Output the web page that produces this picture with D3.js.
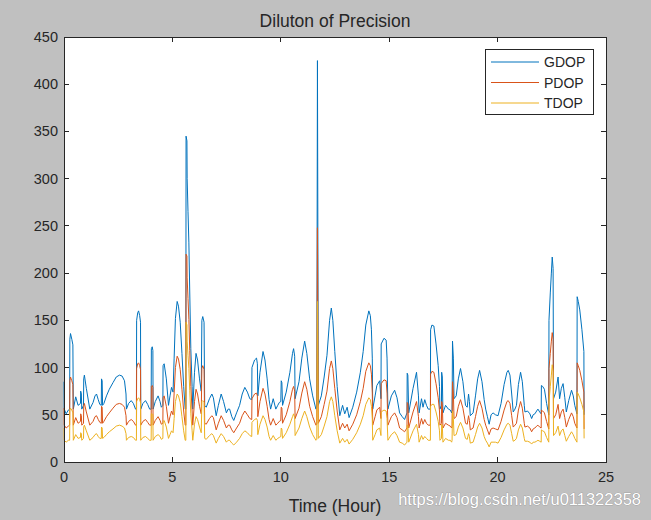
<!DOCTYPE html>
<html>
<head>
<meta charset="utf-8">
<script src="https://cdn.jsdelivr.net/npm/d3@7"></script>
<style>
  body { margin: 0; background: #c0c0c0; }
  svg { display: block; font-family: "Liberation Sans", Arial, sans-serif; }
</style>
</head>
<body>
<svg width="651" height="520"></svg>
<script>
// hours since start of day
const hours = [
  0.00, 0.01, 0.10, 0.20, 0.26, 0.27, 0.30, 0.36, 0.41, 0.43, 0.54, 0.65, 0.76, 0.77, 0.80, 0.82, 0.90, 0.91, 0.94, 1.03,
  1.19, 1.34, 1.43, 1.50, 1.58, 1.65, 1.72, 1.73, 1.76, 1.78, 1.84, 1.96, 2.09, 2.26, 2.41, 2.56, 2.68, 2.79, 2.86, 2.88,
  2.98, 3.10, 3.20, 3.30, 3.34, 3.35, 3.40, 3.44, 3.49, 3.53, 3.54, 3.64, 3.76, 3.86, 3.95, 4.02, 4.03, 4.07, 4.10, 4.11,
  4.21, 4.34, 4.43, 4.49, 4.56, 4.57, 4.62, 4.72, 4.82, 4.89, 4.96, 5.03, 5.08, 5.14, 5.22, 5.28, 5.36, 5.44, 5.52, 5.59,
  5.62, 5.63, 5.67, 5.68, 5.72, 5.76, 5.80, 5.85, 5.91, 5.94, 6.02, 6.09, 6.16, 6.25, 6.33, 6.36, 6.40, 6.46, 6.49, 6.56,
  6.71, 6.82, 6.89, 7.02, 7.12, 7.25, 7.36, 7.49, 7.57, 7.64, 7.74, 7.83, 7.96, 8.10, 8.22, 8.34, 8.46, 8.57, 8.66, 8.67,
  8.79, 8.88, 8.92, 8.94, 9.04, 9.18, 9.27, 9.37, 9.46, 9.53, 9.65, 9.77, 9.86, 9.93, 10.00, 10.02, 10.05, 10.08, 10.25, 10.42,
  10.54, 10.59, 10.64, 10.66, 10.84, 10.97, 11.10, 11.20, 11.33, 11.47, 11.62, 11.66, 11.69, 11.73, 11.87, 12.00, 12.13, 12.25, 12.33, 12.40,
  12.49, 12.60, 12.72, 12.85, 12.95, 13.06, 13.15, 13.32, 13.50, 13.67, 13.80, 13.92, 14.06, 14.13, 14.18, 14.22, 14.24, 14.35, 14.43, 14.56,
  14.62, 14.63, 14.76, 14.86, 14.90, 14.94, 15.10, 15.25, 15.36, 15.48, 15.60, 15.71, 15.82, 15.83, 15.86, 15.90, 16.10, 16.26, 16.35, 16.38,
  16.49, 16.56, 16.64, 16.72, 16.80, 16.90, 16.91, 16.97, 17.06, 17.16, 17.26, 17.32, 17.34, 17.41, 17.42, 17.45, 17.48, 17.60, 17.73, 17.82,
  17.88, 17.90, 17.92, 17.96, 17.99, 18.09, 18.19, 18.29, 18.40, 18.52, 18.60, 18.66, 18.70, 18.74, 18.87, 18.98, 19.08, 19.17, 19.28, 19.38,
  19.45, 19.53, 19.61, 19.70, 19.79, 19.90, 20.02, 20.16, 20.30, 20.43, 20.49, 20.57, 20.65, 20.72, 20.80, 20.87, 20.96, 21.06, 21.14, 21.23,
  21.26, 21.38, 21.49, 21.57, 21.64, 21.72, 21.80, 21.86, 21.94, 22.01, 22.02, 22.08, 22.16, 22.26, 22.36, 22.37, 22.43, 22.48, 22.52, 22.56,
  22.58, 22.68, 22.79, 22.86, 22.94, 23.02, 23.10, 23.17, 23.28, 23.41, 23.49, 23.56, 23.66, 23.67, 23.72, 23.79, 23.89, 23.98, 23.99
];

const gdop = [
  85, 56, 51, 55, 56, 130, 136, 130, 124, 56, 69, 60, 62, 75, 72, 56, 60, 88, 92, 78,
  56, 63, 70, 72, 66, 61, 60, 88, 86, 60, 62, 70, 77, 84, 90, 92, 91, 86, 72, 56,
  62, 65, 62, 56, 56, 150, 158, 160, 155, 148, 56, 62, 65, 61, 56, 56, 120, 122, 118, 56,
  64, 70, 64, 58, 60, 102, 104, 88, 60, 70, 79, 74, 110, 152, 170, 165, 148, 115, 80, 56,
  56, 345, 340, 300, 265, 232, 180, 120, 80, 56, 95, 115, 108, 88, 75, 150, 154, 148, 60, 58,
  67, 72, 68, 49, 60, 72, 64, 52, 56, 56, 48, 44, 52, 60, 72, 79, 74, 67, 66, 100,
  108, 110, 104, 70, 95, 117, 108, 88, 66, 56, 67, 56, 60, 63, 64, 86, 84, 60, 74, 95,
  115, 120, 112, 67, 85, 110, 128, 115, 88, 70, 56, 58, 425, 60, 70, 90, 113, 150, 163, 150,
  117, 80, 49, 60, 51, 58, 47, 58, 74, 95, 117, 145, 160, 155, 140, 110, 56, 70, 81, 86,
  67, 125, 131, 129, 110, 56, 70, 76, 68, 52, 48, 45, 52, 94, 92, 52, 78, 95, 70, 52,
  67, 58, 66, 60, 56, 56, 140, 145, 144, 125, 102, 80, 56, 60, 95, 90, 52, 60, 56, 55,
  52, 55, 128, 110, 67, 70, 88, 99, 85, 60, 58, 72, 64, 49, 52, 70, 88, 97, 85, 66,
  56, 48, 40, 50, 52, 50, 49, 62, 82, 95, 97, 92, 72, 53, 56, 60, 82, 95, 85, 60,
  53, 54, 51, 46, 50, 51, 54, 56, 53, 51, 81, 80, 77, 62, 50, 150, 179, 200, 217, 205,
  67, 74, 90, 67, 78, 83, 68, 53, 65, 76, 70, 60, 51, 175, 170, 161, 140, 117, 50
];

const pdop = [
  57, 39, 36, 38, 39, 86, 90, 86, 82, 39, 47, 41, 43, 51, 49, 39, 41, 59, 62, 53,
  39, 43, 48, 49, 45, 42, 41, 59, 58, 41, 43, 48, 52, 57, 61, 62, 61, 58, 49, 39,
  43, 45, 43, 39, 39, 99, 104, 105, 102, 98, 39, 43, 45, 42, 39, 39, 80, 81, 79, 39,
  44, 48, 44, 40, 41, 68, 70, 59, 41, 48, 54, 50, 73, 100, 112, 109, 98, 77, 54, 39,
  39, 220, 218, 195, 173, 151, 118, 80, 54, 39, 64, 77, 72, 59, 51, 99, 102, 98, 41, 40,
  46, 49, 47, 34, 41, 49, 44, 36, 39, 39, 34, 31, 36, 41, 49, 54, 50, 46, 45, 67,
  72, 73, 70, 48, 64, 78, 72, 59, 45, 39, 46, 39, 41, 43, 44, 58, 57, 41, 50, 64,
  77, 80, 75, 46, 57, 73, 85, 77, 59, 48, 39, 40, 248, 41, 48, 61, 75, 99, 107, 99,
  78, 54, 34, 41, 36, 40, 33, 40, 50, 64, 78, 96, 105, 102, 93, 73, 39, 48, 55, 58,
  46, 83, 87, 86, 73, 39, 48, 52, 47, 36, 34, 32, 36, 63, 62, 36, 53, 64, 48, 36,
  46, 40, 45, 41, 39, 39, 93, 96, 95, 83, 68, 54, 39, 41, 64, 61, 36, 41, 39, 38,
  36, 38, 85, 73, 46, 48, 59, 66, 57, 41, 40, 49, 44, 34, 36, 48, 59, 65, 57, 45,
  39, 34, 29, 35, 36, 35, 34, 43, 55, 64, 65, 62, 49, 37, 39, 41, 55, 64, 57, 41,
  37, 38, 36, 32, 35, 36, 38, 39, 37, 36, 55, 54, 52, 43, 35, 99, 115, 128, 137, 130,
  46, 50, 61, 46, 53, 56, 47, 37, 45, 52, 48, 41, 36, 105, 102, 97, 86, 74, 35
];

const tdop = [
  36, 23, 21, 23, 23, 55, 57, 55, 52, 23, 29, 25, 26, 31, 30, 23, 25, 37, 39, 33,
  23, 26, 29, 30, 27, 25, 25, 37, 36, 25, 26, 29, 32, 35, 38, 39, 38, 36, 30, 23,
  26, 27, 26, 23, 23, 64, 67, 68, 66, 63, 23, 26, 27, 25, 23, 23, 51, 51, 50, 23,
  27, 29, 27, 24, 25, 43, 44, 37, 25, 29, 33, 31, 46, 64, 72, 70, 63, 48, 33, 23,
  23, 148, 145, 128, 113, 99, 76, 51, 33, 23, 40, 48, 45, 37, 31, 64, 65, 63, 25, 24,
  28, 30, 28, 20, 25, 30, 27, 21, 23, 23, 20, 18, 21, 25, 30, 33, 31, 28, 27, 42,
  45, 46, 44, 29, 40, 49, 45, 37, 27, 23, 28, 23, 25, 26, 27, 36, 35, 25, 31, 40,
  48, 51, 47, 28, 36, 46, 54, 48, 37, 29, 23, 24, 170, 25, 29, 38, 48, 64, 69, 64,
  49, 33, 20, 25, 21, 24, 19, 24, 31, 40, 49, 61, 68, 66, 59, 46, 23, 29, 34, 36,
  28, 53, 55, 54, 46, 23, 29, 32, 28, 21, 20, 18, 21, 39, 39, 21, 33, 40, 29, 21,
  28, 24, 27, 25, 23, 23, 59, 61, 61, 53, 43, 33, 23, 25, 40, 38, 21, 25, 23, 23,
  21, 23, 54, 46, 28, 29, 37, 42, 36, 25, 24, 30, 27, 20, 21, 29, 37, 41, 36, 27,
  23, 20, 16, 21, 21, 21, 20, 26, 34, 40, 41, 39, 30, 22, 23, 25, 34, 40, 36, 25,
  22, 22, 21, 19, 21, 21, 22, 23, 22, 21, 34, 33, 32, 26, 21, 64, 80, 92, 103, 96,
  28, 31, 38, 28, 33, 35, 28, 22, 27, 32, 29, 25, 21, 74, 72, 68, 61, 53, 25
];

const seriesNames = ["GDOP", "PDOP", "TDOP"];
const seriesColors = ["#0072bd", "#d95319", "#edb120"];
const xTicks = [0, 5, 10, 15, 20, 25];
const yTicks = [0, 50, 100, 150, 200, 250, 300, 350, 400, 450];

const svg = d3.select("svg");
const plotLeft = 64, plotTop = 37, plotRight = 606, plotBottom = 462;
const tickLen = 5;
const axisColor = "#262626";

const x = d3.scaleLinear().domain([0, 25]).range([plotLeft, plotRight]);
const y = d3.scaleLinear().domain([0, 450]).range([plotBottom, plotTop]);

// white plot area
svg.append("rect")
  .attr("x", plotLeft).attr("y", plotTop)
  .attr("width", plotRight - plotLeft).attr("height", plotBottom - plotTop)
  .attr("fill", "#fff");

const line = d3.line()
  .x(d => x(d[0]))
  .y(d => y(d[1]));

const plot = svg.append("g");
[gdop, pdop, tdop].forEach((vals, i) => {
  plot.append("path")
    .datum(hours.map((h, j) => [h, vals[j]]))
    .attr("fill", "none")
    .attr("stroke", seriesColors[i])
    .attr("stroke-width", 1)
    .attr("d", line);
});

// axes, ticks point inwards on all four sides
const axes = svg.append("g").attr("shape-rendering", "crispEdges");
axes.append("rect")
  .attr("x", plotLeft).attr("y", plotTop)
  .attr("width", plotRight - plotLeft).attr("height", plotBottom - plotTop)
  .attr("fill", "none").attr("stroke", axisColor);

xTicks.forEach(t => {
  axes.append("line").attr("x1", x(t)).attr("x2", x(t))
    .attr("y1", plotBottom).attr("y2", plotBottom - tickLen).attr("stroke", axisColor);
  axes.append("line").attr("x1", x(t)).attr("x2", x(t))
    .attr("y1", plotTop).attr("y2", plotTop + tickLen).attr("stroke", axisColor);
});
yTicks.forEach(t => {
  axes.append("line").attr("x1", plotLeft).attr("x2", plotLeft + tickLen)
    .attr("y1", y(t)).attr("y2", y(t)).attr("stroke", axisColor);
  axes.append("line").attr("x1", plotRight).attr("x2", plotRight - tickLen)
    .attr("y1", y(t)).attr("y2", y(t)).attr("stroke", axisColor);
});

svg.append("g").selectAll("text")
  .data(xTicks).join("text")
  .attr("x", d => x(d)).attr("y", plotBottom + 20)
  .attr("text-anchor", "middle")
  .attr("font-size", 14.5).attr("fill", axisColor)
  .text(d => d);

svg.append("g").selectAll("text")
  .data(yTicks).join("text")
  .attr("x", plotLeft - 6).attr("y", d => y(d) + 5)
  .attr("text-anchor", "end")
  .attr("font-size", 14.5).attr("fill", axisColor)
  .text(d => d);

svg.append("text")
  .attr("x", (plotLeft + plotRight) / 2).attr("y", 27)
  .attr("text-anchor", "middle")
  .attr("font-size", 17.5).attr("fill", axisColor)
  .text("Diluton of Precision");

svg.append("text")
  .attr("x", (plotLeft + plotRight) / 2).attr("y", 512)
  .attr("text-anchor", "middle")
  .attr("font-size", 17.5).attr("fill", axisColor)
  .text("Time (Hour)");

// legend
const lg = svg.append("g");
lg.append("rect")
  .attr("x", 485.5).attr("y", 49.5)
  .attr("width", 108).attr("height", 65)
  .attr("fill", "#fff").attr("stroke", axisColor);
seriesNames.forEach((name, i) => {
  const ly = 62 + i * 20.5;
  lg.append("line")
    .attr("x1", 491).attr("x2", 539)
    .attr("y1", ly).attr("y2", ly)
    .attr("stroke", seriesColors[i]).attr("stroke-width", 1);
  lg.append("text")
    .attr("x", 544).attr("y", ly + 5)
    .attr("font-size", 14).attr("fill", axisColor)
    .text(name);
});

// blog watermark
svg.append("text")
  .attr("x", 641).attr("y", 505)
  .attr("text-anchor", "end")
  .attr("font-size", 16.5)
  .attr("fill", "#fff")
  .attr("stroke", "#8a8a8a").attr("stroke-width", 0.6)
  .attr("paint-order", "stroke")
  .text("https://blog.csdn.net/u011322358");
</script>
</body>
</html>
